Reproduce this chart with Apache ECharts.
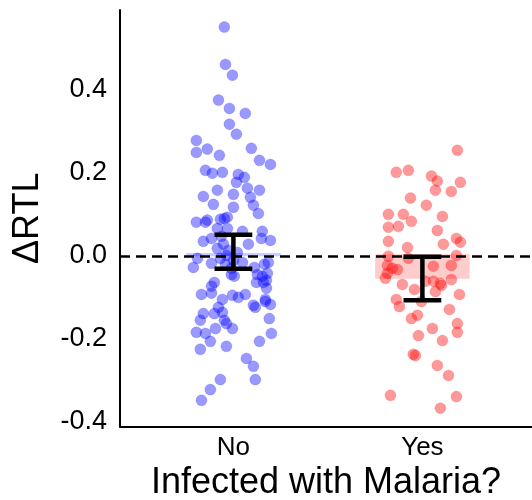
<!DOCTYPE html>
<html>
<head>
<meta charset="utf-8">
<script src="https://cdn.jsdelivr.net/npm/echarts@6/dist/echarts.min.js"></script>
<style>
html,body{margin:0;padding:0;background:#fff;}
#chart{width:532px;height:500px;}
</style>
</head>
<body>
<div id="chart"></div>
<script>
// ---- data ----
const categories = ['No', 'Yes'];
const yTicks = [-0.4, -0.2, 0.0, 0.2, 0.4];

const noJitter = [-0.048,-0.042,-0.005,-0.079,-0.021,0.063,-0.021,0.016,-0.196,
  -0.196,-0.138,0.095,-0.074,0.138,0.196,
  -0.148,-0.111,-0.058,0.026,0.058,0.016,0.074,0.138,-0.085,0.000,-0.159,0.090,-0.106,0.106,0.000,0.132,
  -0.032,-0.048,-0.069,-0.196,-0.138,-0.148,
  -0.085,-0.032,0.048,0.153,-0.063,-0.116,0.148,0.196,-0.159,0.079,-0.085,-0.053,
  -0.037,0.000,-0.190,-0.212,-0.116,0.111,0.164,0.185,
  -0.026,0.021,-0.069,0.048,-0.011,-0.042,
  0.127,0.180,-0.011,0.005,0.153,0.175,
  -0.101,-0.116,0.122,0.159,0.175,
  -0.169,-0.116,-0.058,-0.005,0.063,0.026,0.169,
  0.106,0.116,0.169,0.196,
  -0.079,-0.101,-0.058,-0.159,-0.175,-0.048,-0.037,0.190,
  -0.196,-0.148,-0.095,-0.005,-0.122,0.201,0.138,
  -0.175,-0.037,0.069,0.106,0.116,-0.069,-0.122,-0.169];
const noValues = [0.551,0.461,0.435,0.375,0.355,0.343,0.317,0.293,0.278,
  0.249,0.257,0.259,0.242,0.230,0.220,
  0.206,0.199,0.201,0.196,0.189,0.177,0.163,0.158,0.158,0.148,0.143,0.141,0.124,0.122,0.117,0.102,
  0.093,0.090,0.088,0.081,0.086,0.081,
  0.066,0.066,0.059,0.059,0.047,0.042,0.042,0.037,0.035,0.028,0.018,0.028,
  0.001,-0.011,-0.006,-0.028,-0.018,-0.028,-0.020,-0.016,
  0.013,0.008,-0.006,-0.016,-0.030,-0.020,
  -0.045,-0.042,-0.045,-0.049,-0.049,-0.059,
  -0.064,-0.073,-0.064,-0.064,-0.078,
  -0.093,-0.090,-0.105,-0.095,-0.093,-0.100,-0.105,
  -0.119,-0.124,-0.110,-0.117,
  -0.124,-0.139,-0.136,-0.139,-0.155,-0.155,-0.163,-0.151,
  -0.184,-0.187,-0.175,-0.175,-0.206,-0.187,-0.206,
  -0.225,-0.218,-0.247,-0.266,-0.298,-0.298,-0.322,-0.348];

const yesJitter = [0.185,-0.138,-0.074,0.048,0.079,0.069,0.201,0.153,-0.063,0.021,
  -0.180,-0.101,-0.058,-0.127,-0.180,0.106,0.079,-0.180,-0.079,0.111,
  0.180,0.201,-0.180,-0.074,0.180,-0.185,-0.132,0.058,0.153,-0.159,
  -0.196,-0.185,-0.106,0.153,0.058,0.095,0.101,0.069,-0.042,0.016,
  0.196,-0.138,-0.122,-0.005,0.143,-0.026,-0.058,0.185,0.185,0.053,
  -0.021,0.106,-0.048,-0.037,0.079,0.138,-0.169,0.180,0.095];
const yesValues = [0.254,0.201,0.206,0.192,0.180,0.158,0.177,0.155,0.139,0.122,
  0.100,0.100,0.083,0.071,0.069,0.095,0.061,0.035,0.020,0.028,
  0.042,0.033,-0.001,-0.006,0.001,-0.023,-0.033,-0.025,-0.023,-0.030,
  -0.054,-0.042,-0.069,-0.057,-0.061,-0.066,-0.071,-0.086,-0.081,-0.061,
  -0.093,-0.105,-0.122,-0.110,-0.129,-0.143,-0.151,-0.163,-0.184,-0.175,
  -0.192,-0.204,-0.237,-0.240,-0.264,-0.288,-0.336,-0.339,-0.367];

// error bars: [low, high] per group
const errLow  = [-0.031, -0.107];
const errHigh = [0.051, -0.002];
// shaded bands: [low, high] per group
const bandLow  = [-0.001, -0.055];
const bandHigh = [0.007, 0.004];

// ---- build ----
const noData = noValues.map((v, i) => [1 + noJitter[i], v]);
const yesData = yesValues.map((v, i) => [2 + yesJitter[i], v]);
const errData = categories.map((c, i) => [i + 1, errLow[i], errHigh[i]]);

const FONT = '"Liberation Sans", Arial, Helvetica, sans-serif';

const chart = echarts.init(document.getElementById('chart'), null, {renderer: 'canvas'});
chart.setOption({
  animation: false,
  backgroundColor: '#fff',
  grid: {left: 120, right: 0, top: 10, bottom: 73.5, containLabel: false, outerBoundsMode: 'none'},
  xAxis: {
    type: 'value', min: 0.4, max: 2.58,
    splitLine: {show: false},
    axisTick: {show: false},
    axisLine: {show: true, onZero: false, lineStyle: {color: '#000', width: 2}},
    axisLabel: {
      customValues: [1, 2],
      formatter: v => categories[Math.round(v) - 1] || '',
      color: '#000', fontSize: 26, fontFamily: FONT, margin: 8
    },
    name: 'Infected with Malaria?', nameLocation: 'middle', nameGap: 38,
    nameTextStyle: {color: '#000', fontSize: 36, fontFamily: FONT}
  },
  yAxis: {
    type: 'value', min: -0.411, max: 0.592,
    splitLine: {show: false},
    axisTick: {show: false},
    axisLine: {show: true, onZero: false, lineStyle: {color: '#000', width: 2}},
    axisLabel: {
      customValues: yTicks,
      formatter: v => v.toFixed(1),
      color: '#000', fontSize: 27, fontFamily: FONT, margin: 13
    },
    name: 'ΔRTL', nameLocation: 'middle', nameGap: 74,
    nameTextStyle: {color: '#000', fontSize: 36, fontFamily: FONT}
  },
  series: [
    {
      type: 'scatter', name: 'No', data: noData, symbolSize: 11, z: 3,
      itemStyle: {color: 'rgba(0,0,255,0.4)', borderColor: 'rgba(0,0,255,0.15)', borderWidth: 1, opacity: 1},
      markArea: {
        silent: true,
        itemStyle: {color: 'rgba(0,0,255,0.2)'},
        data: [[{coord: [0.75, bandLow[0]]}, {coord: [1.25, bandHigh[0]]}]]
      }
    },
    {
      type: 'scatter', name: 'Yes', data: yesData, symbolSize: 11, z: 3,
      itemStyle: {color: 'rgba(255,0,0,0.4)', borderColor: 'rgba(255,0,0,0.15)', borderWidth: 1, opacity: 1},
      markArea: {
        silent: true,
        itemStyle: {color: 'rgba(255,0,0,0.2)'},
        data: [[{coord: [1.75, bandLow[1]]}, {coord: [2.25, bandHigh[1]]}]]
      },
      markLine: {
        silent: true, symbol: 'none', label: {show: false},
        lineStyle: {color: '#000', width: 2.5, type: [10, 6]},
        data: [{yAxis: 0}]
      }
    },
    {
      type: 'custom', z: 10,
      data: errData,
      renderItem: function (params, api) {
        const x = api.value(0);
        const lo = api.coord([x, api.value(1)]);
        const hi = api.coord([x, api.value(2)]);
        const l = api.coord([x - 0.1, api.value(1)]);
        const r = api.coord([x + 0.1, api.value(1)]);
        const hw = (r[0] - l[0]) / 2;
        const style = {stroke: '#000', lineWidth: 4.5, fill: 'none'};
        return {
          type: 'group',
          children: [
            {type: 'line', shape: {x1: lo[0], y1: lo[1], x2: hi[0], y2: hi[1]}, style},
            {type: 'line', shape: {x1: hi[0] - hw, y1: hi[1], x2: hi[0] + hw, y2: hi[1]}, style},
            {type: 'line', shape: {x1: lo[0] - hw, y1: lo[1], x2: lo[0] + hw, y2: lo[1]}, style}
          ]
        };
      }
    }
  ]
});
</script>
</body>
</html>
